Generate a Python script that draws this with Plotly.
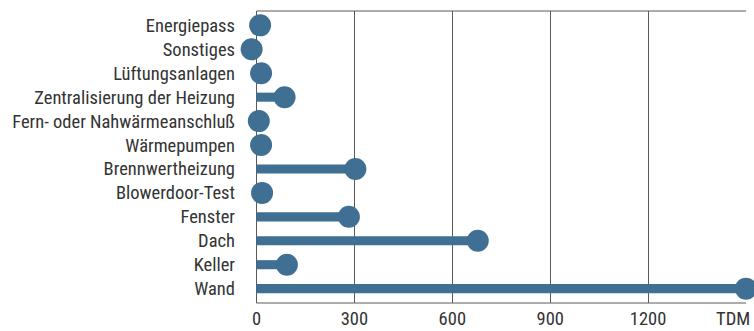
import plotly.graph_objects as go

categories = ["Energiepass", "Sonstiges", "Lüftungsanlagen", "Zentralisierung der Heizung",
              "Fern- oder Nahwärmeanschluß", "Wärmepumpen", "Brennwertheizung", "Blowerdoor-Test",
              "Fenster", "Dach", "Keller", "Wand"]
values = [11, -15, 14, 86, 7, 14, 303, 17, 283, 678, 93, 1500]
tick_vals = [0, 300, 600, 900, 1200, 1500]
tick_text = ["0", "300", "600", "900", "1200", ""]
unit_label = "TDM"

color = "#3f6f93"
line_col = "#5a5a5a"
text_col = "#333333"
font_family = "Liberation Sans Narrow, Roboto Condensed, Arial Narrow, sans-serif"

fig = go.Figure()
fig.add_trace(go.Bar(y=categories, x=values, orientation="h", marker=dict(color=color, line=dict(width=0)),
                     width=0.38, hoverinfo="skip"))
fig.add_trace(go.Scatter(y=categories, x=values, mode="markers",
                         marker=dict(color=color, size=22, line=dict(width=0)), cliponaxis=False))

for yp in (0, 1):
    fig.add_shape(type="line", xref="x", yref="paper", x0=0, x1=1500, y0=yp, y1=yp,
                  line=dict(color=line_col, width=1), layer="below")

fig.add_annotation(x=tick_vals[-1], y=0, xref="x", yref="paper", text=unit_label,
                   showarrow=False, xanchor="right", yanchor="top", xshift=6, yshift=-3,
                   font=dict(size=18.5, color=text_col, family=font_family))

fig.update_layout(
    width=754, height=331,
    margin=dict(l=250, r=8, t=11, b=28),
    paper_bgcolor="white", plot_bgcolor="white",
    showlegend=False,
    font=dict(family=font_family, size=18.5, color=text_col),
    xaxis=dict(range=[-20, 1500], tickvals=tick_vals, ticktext=tick_text,
               showgrid=True, gridcolor=line_col, gridwidth=1,
               showline=False, zeroline=False, ticks="", automargin=False,
               ticklabelstandoff=2,
               tickfont=dict(size=18.5, color=text_col)),
    yaxis=dict(categoryorder="array", categoryarray=categories, autorange=False,
               range=[11.6, -0.6], showgrid=False, zeroline=False, showline=False,
               ticks="", ticklabelstandoff=14, automargin=False,
               tickfont=dict(size=18.5, color=text_col)),
)

fig.write_html("out.html", config={"displayModeBar": False},
               post_script="document.body.style.margin='0';")
